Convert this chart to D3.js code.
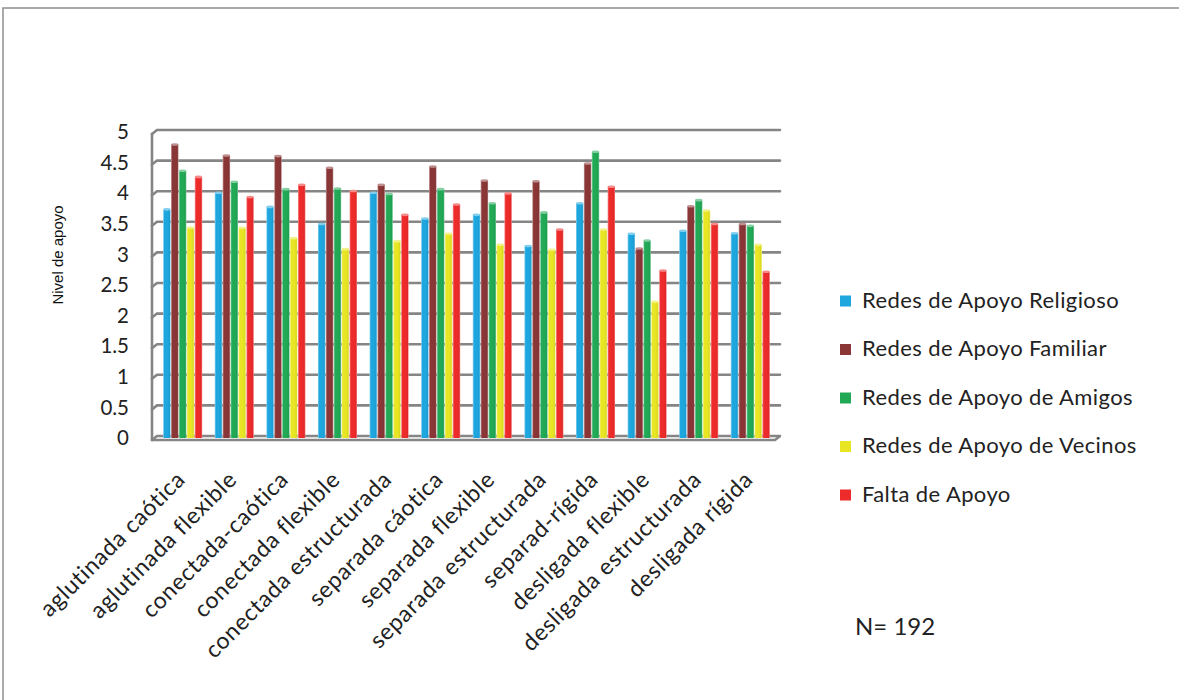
<!DOCTYPE html>
<html>
<head>
<meta charset="utf-8">
<script src="https://cdn.jsdelivr.net/npm/d3@7"></script>
<style>
  html, body { margin: 0; padding: 0; background: #fff; }
  svg { display: block; }
</style>
</head>
<body>
<svg id="chart" width="1179" height="700"></svg>
<script>
// Family cohesion/adaptability types
const categories = [
  "aglutinada caótica", "aglutinada flexible", "conectada-caótica",
  "conectada flexible", "conectada estructurada", "separada cáotica",
  "separada flexible", "separada estructurada", "separad-rígida",
  "desligada flexible", "desligada estructurada", "desligada rígida"
];

const seriesNames = [
  "Redes de Apoyo Religioso", "Redes de Apoyo Familiar",
  "Redes de Apoyo de Amigos", "Redes de Apoyo de Vecinos", "Falta de Apoyo"
];

const religioso = [3.72, 3.99, 3.76, 3.48, 3.99, 3.57, 3.63, 3.12, 3.82, 3.32, 3.37, 3.33];
const familiar  = [4.78, 4.60, 4.59, 4.40, 4.12, 4.42, 4.19, 4.18, 4.47, 3.08, 3.77, 3.48];
const amigos    = [4.35, 4.17, 4.05, 4.06, 3.97, 4.05, 3.82, 3.67, 4.66, 3.21, 3.87, 3.45];
const vecinos   = [3.42, 3.42, 3.25, 3.07, 3.20, 3.32, 3.14, 3.06, 3.39, 2.21, 3.70, 3.14];
const falta     = [4.25, 3.92, 4.12, 4.02, 3.63, 3.80, 3.98, 3.39, 4.09, 2.72, 3.48, 2.70];

const yTicks = [0, 0.5, 1, 1.5, 2, 2.5, 3, 3.5, 4, 4.5, 5];
const yTickLabels = ["0", "0.5", "1", "1.5", "2", "2.5", "3", "3.5", "4", "4.5", "5"];

const seriesValues = [religioso, familiar, amigos, vecinos, falta];
const colors = ["#1ea6df", "#8b3636", "#21a956", "#e8e624", "#ee2b2b"];

const svg = d3.select("#chart");
const font = "Lato, 'Open Sans', sans-serif";

// outer frame
svg.append("rect")
  .attr("x", 3).attr("y", 8).attr("width", 1200).attr("height", 720)
  .attr("fill", "none").attr("stroke", "#8f8f8f").attr("stroke-width", 1.5);

// scales: back wall (gridlines) and depth offset for the 3D look
const depthX = 5, depthY = 4;
const y = d3.scaleLinear().domain([0, 5]).range([436, 130]);
const x0 = d3.scaleBand().domain(categories).range([157, 776])
  .paddingInner(0.225).paddingOuter(0.11);
const x1 = d3.scaleBand().domain(seriesNames).range([0, x0.bandwidth()]).padding(0.06);

// gradients for cylinder shading
const defs = svg.append("defs");
colors.forEach((c, i) => {
  const g = defs.append("linearGradient").attr("id", "cyl" + i)
    .attr("x1", "0%").attr("x2", "100%").attr("y1", "0%").attr("y2", "0%");
  const light = d3.interpolateRgb(c, "#ffffff");
  const dark = d3.interpolateRgb(c, "#000000");
  g.append("stop").attr("offset", "0%").attr("stop-color", light(0.5));
  g.append("stop").attr("offset", "18%").attr("stop-color", c);
  g.append("stop").attr("offset", "60%").attr("stop-color", c);
  g.append("stop").attr("offset", "85%").attr("stop-color", dark(0.06));
  g.append("stop").attr("offset", "100%").attr("stop-color", light(0.45));
});

// gridlines on the back wall, with the bend onto the left wall
const grid = svg.append("g").attr("stroke", "#858585").attr("stroke-width", 2.6)
  .attr("fill", "none").attr("stroke-linecap", "round");
yTicks.forEach(t => {
  grid.append("path")
    .attr("d", `M${157 - depthX},${y(t) + depthY} L${157},${y(t)} L780,${y(t)}`);
});
// left wall edge
grid.append("line")
  .attr("x1", 157 - depthX).attr("x2", 157 - depthX)
  .attr("y1", y(5) + depthY).attr("y2", y(0) + depthY);

// y tick labels
svg.append("g").selectAll("text").data(yTicks).join("text")
  .attr("x", 129).attr("y", d => y(d) + 4)
  .attr("text-anchor", "end").attr("dominant-baseline", "middle")
  .attr("font-family", font).attr("font-size", 20.5).attr("fill", "#222")
  .text((d, i) => yTickLabels[i]);

// y axis title
svg.append("text")
  .attr("transform", "translate(63,255) rotate(-90)")
  .attr("text-anchor", "middle")
  .attr("font-family", "'Liberation Sans', Arial, sans-serif").attr("font-size", 15)
  .attr("fill", "#111").text("Nivel de apoyo");

// bars
const groups = svg.append("g").selectAll("g").data(categories).join("g")
  .attr("transform", d => `translate(${x0(d)},0)`);
groups.each(function (cat, ci) {
  const g = d3.select(this);
  seriesNames.forEach((s, si) => {
    const v = seriesValues[si][ci];
    const bx = x1(s), bw = x1.bandwidth();
    const top = y(v) + 1, bottom = y(0) + 2;
    g.append("rect")
      .attr("x", bx).attr("y", top).attr("width", bw).attr("height", bottom - top)
      .attr("fill", `url(#cyl${si})`);
    g.append("ellipse")
      .attr("cx", bx + bw / 2).attr("cy", top).attr("rx", bw / 2).attr("ry", 1.3)
      .attr("fill", d3.interpolateRgb(colors[si], "#ffffff")(0.45));
  });
});

// floor front edge
svg.append("path")
  .attr("d", `M${157 - depthX},${y(0) + depthY} L775,${y(0) + depthY} L780,${y(0)}`)
  .attr("fill", "none").attr("stroke", "#858585").attr("stroke-width", 2.6);

// category labels
svg.append("g").selectAll("text").data(categories).join("text")
  .attr("transform", d => `translate(${x0(d) + x0.bandwidth() / 2 + 4},481) rotate(-45)`)
  .attr("text-anchor", "end")
  .attr("font-family", font).attr("font-size", 23).attr("letter-spacing", 0.7)
  .attr("fill", "#222")
  .text(d => d);

// legend
const legend = svg.append("g").selectAll("g").data(seriesNames).join("g")
  .attr("transform", (d, i) => `translate(840,${301 + i * 48.5})`);
legend.append("rect")
  .attr("x", 0).attr("y", -5.5).attr("width", 11).attr("height", 11)
  .attr("fill", (d, i) => colors[i]);
legend.append("text")
  .attr("x", 22).attr("y", 1).attr("dominant-baseline", "middle")
  .attr("font-family", font).attr("font-size", 22).attr("letter-spacing", 0.4)
  .attr("fill", "#222")
  .text(d => d);

// sample size note
svg.append("text")
  .attr("x", 855).attr("y", 635)
  .attr("font-family", font).attr("font-size", 24).attr("fill", "#222")
  .text("N= 192");
</script>
</body>
</html>
